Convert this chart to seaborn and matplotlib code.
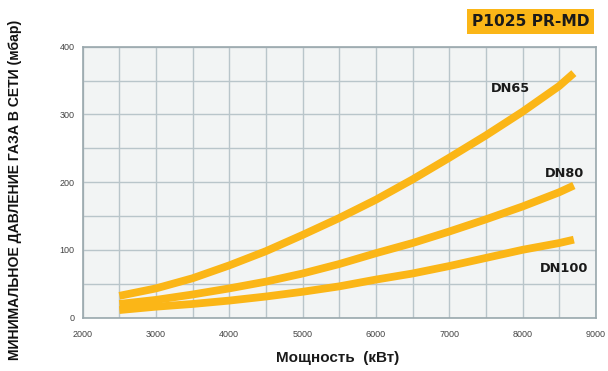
import matplotlib
matplotlib.use("Agg")
import matplotlib.pyplot as plt
import numpy as np
import pandas as pd
import seaborn as sns

# Values
power_kw = [2500, 3000, 3500, 4000, 4500, 5000, 5500, 6000, 6500, 7000, 7500, 8000, 8500, 8700]
dn65 = [32, 43, 58, 77, 98, 122, 147, 174, 204, 236, 269, 304, 342, 361]
dn80 = [20, 26, 34, 43, 53, 65, 79, 95, 110, 127, 145, 164, 185, 195]
dn100 = [11, 16, 20, 25, 31, 38, 46, 56, 65, 76, 88, 100, 110, 115]
series_names = ["DN65", "DN80", "DN100"]
x_ticks = [2000, 3000, 4000, 5000, 6000, 7000, 8000, 9000]
y_ticks = [0, 100, 200, 300, 400]

df = pd.DataFrame({
    "power": power_kw * 3,
    "pressure": dn65 + dn80 + dn100,
    "series": np.repeat(series_names, len(power_kw)),
})

yellow = "#FBB617"
sns.set_style("white")
plt.rcParams["font.family"] = ["Liberation Sans", "DejaVu Sans"]

fig = plt.figure(figsize=(6.08, 3.71), dpi=100)
ax = fig.add_axes([0.136, 0.1442, 0.844, 0.7298])
ax.set_facecolor("#F2F4F4")

sns.lineplot(
    data=df, x="power", y="pressure", hue="series",
    palette={name: yellow for name in series_names},
    linewidth=5.6, legend=False, ax=ax,
)
for line in ax.lines:
    line.set_solid_capstyle("butt")
    line.set_zorder(3)

ax.set_xlim(2000, 9000)
ax.set_ylim(0, 400)
ax.set_xticks(x_ticks)
ax.set_yticks(y_ticks)
ax.set_xticks(np.arange(2000, 9001, 500), minor=True)
ax.set_yticks(np.arange(0, 401, 50), minor=True)
ax.grid(True, which="both", color="#B9C5CA", linewidth=1.0, zorder=0)
ax.set_axisbelow(True)
ax.tick_params(axis="both", which="major", labelsize=6.5, labelcolor="#444444",
               length=3, width=0.8, color="#9AA8AD", direction="out", pad=3)
ax.tick_params(axis="both", which="minor", length=0)
ax.tick_params(axis="x", pad=6)
for spine in ax.spines.values():
    spine.set_color("#9AA8AD")
    spine.set_linewidth(1.2)
ax.set_xlabel("")
ax.set_ylabel("")

# Series labels
lab = dict(fontsize=9.3, fontweight="bold", color="#1a1a1a", ha="center", va="center", family="DejaVu Sans")
ax.text(7830, 339, "DN65", **lab)
ax.text(8570, 213, "DN80", **lab)
ax.text(8560, 73, "DN100", **lab)

fig.text(0.556, 0.035, "Мощность  (кВт)", fontsize=11, fontweight="bold", color="#1a1a1a",
         ha="center", va="center")
fig.text(0.024, 0.488, "МИНИМАЛЬНОЕ ДАВЛЕНИЕ ГАЗА В СЕТИ (мбар)", fontsize=10.1, fontweight="bold",
         color="#111111", rotation=90, ha="center", va="center")
fig.text(0.8725, 0.943, "P1025 PR-MD", fontsize=11.2, fontweight="bold", color="#1a1a1a",
         ha="center", va="center", family="DejaVu Sans",
         bbox=dict(boxstyle="square,pad=0.33", facecolor=yellow, edgecolor="none"))

fig.savefig("out.png", dpi=100)
